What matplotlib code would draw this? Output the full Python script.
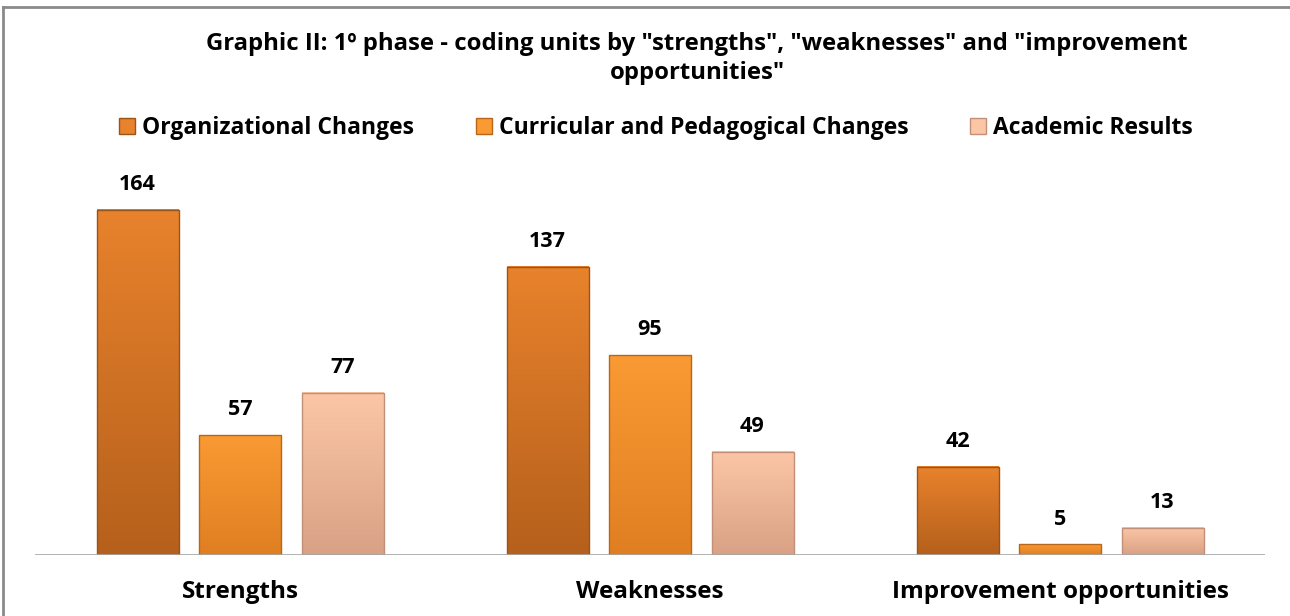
"""
Graphic II: coding units by strengths / weaknesses / improvement opportunities
"""

import matplotlib.pyplot as plt
import numpy as np
from matplotlib.colors import LinearSegmentedColormap
from matplotlib.lines import Line2D
from matplotlib.patches import Patch

categories = ['Strengths', 'Weaknesses', 'Improvement opportunities']
series_names = ['Organizational Changes', 'Curricular and Pedagogical Changes', 'Academic Results']
organizational = [164, 137, 42]
curricular = [57, 95, 5]
academic = [77, 49, 13]

# (top colour, bottom colour) for a soft vertical gradient
shades = [('#E8822C', '#B5601C'), ('#FA9A33', '#E07F22'), ('#FBC6A6', '#D9A185')]
edges = ['#9A5418', '#B8661A', '#C29078']

plt.rcParams['font.family'] = ['Open Sans', 'DejaVu Sans']

fig = plt.figure(figsize=(12.9, 6.16), dpi=100)
ax = fig.add_axes([35 / 1290, 61 / 616, 1230 / 1290, 365 / 616])

x = np.arange(len(categories))
width = 0.2
offsets = [-0.25, 0.0, 0.25]
all_values = [organizational, curricular, academic]

ax.set_xlim(-0.5, 2.5)
ax.set_ylim(0, 365 / 2.104)

for values, off, (top, bot), ec in zip(all_values, offsets, shades, edges):
    bars = ax.bar(x + off, values, width, color=top, edgecolor=ec, linewidth=1.0, zorder=2)
    cmap = LinearSegmentedColormap.from_list('g', [bot, top])
    grad = np.linspace(0, 1, 100).reshape(-1, 1)
    for bar, v in zip(bars, values):
        x0 = bar.get_x()
        w = bar.get_width()
        h = bar.get_height()
        ax.imshow(grad, cmap=cmap, origin='lower', aspect='auto',
                  extent=(x0, x0 + w, 0, h), zorder=2.5, clip_path=bar, clip_on=True)
        bar.set_facecolor('none')
        bar.set_zorder(3)
        ax.text(x0 + w / 2, h + 7, f'{v}', ha='center', va='bottom',
                fontsize=15.5, fontweight='bold', color='black')

ax.axhline(0, color='#A6A6A6', linewidth=1.2, zorder=4)
for s in ax.spines.values():
    s.set_visible(False)
ax.set_yticks([])
ax.set_xticks(x)
ax.set_xticklabels(categories, fontsize=17.5, fontweight='bold')
ax.tick_params(axis='x', length=0, pad=18)

fig.text(697 / 1290, 1 - 44 / 616,
         'Graphic II: 1º phase - coding units by "strengths", "weaknesses" and "improvement',
         ha='center', va='center', fontsize=17.2, fontweight='bold')
fig.text(697 / 1290, 1 - 73 / 616, 'opportunities"',
         ha='center', va='center', fontsize=17.2, fontweight='bold')

handles = [Patch(facecolor=t, edgecolor=e) for (t, b), e in zip(shades, edges)]
fig.legend(handles, series_names, loc='center', bbox_to_anchor=(656 / 1290, 1 - 128 / 616),
           ncol=3, frameon=False, prop={'size': 16.5, 'weight': 'bold'},
           handlelength=0.7, handleheight=0.7, handletextpad=0.3, columnspacing=2.7)

# outer frame (top and left edges visible)
fig.add_artist(Line2D([3 / 1290, 1], [1 - 7 / 616, 1 - 7 / 616], color='#8A8A8A', linewidth=2,
                      transform=fig.transFigure))
fig.add_artist(Line2D([3 / 1290, 3 / 1290], [0, 1 - 7 / 616], color='#8A8A8A', linewidth=2,
                      transform=fig.transFigure))

plt.savefig('out.png', dpi=100)
